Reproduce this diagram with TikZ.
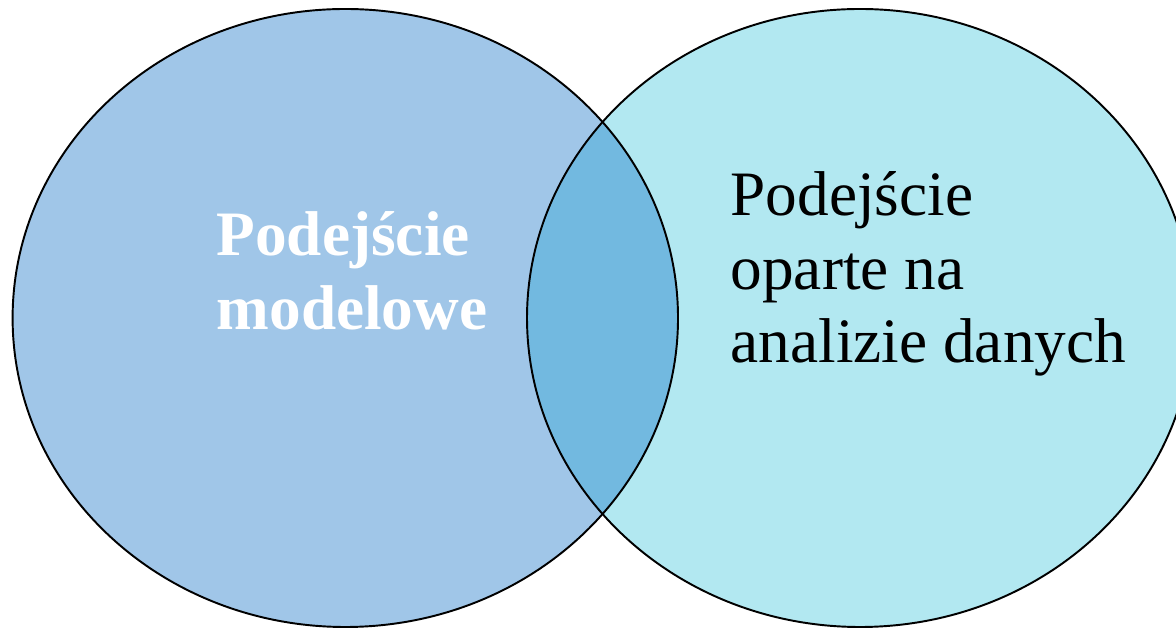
\documentclass[tikz,border=0pt]{standalone}
\usepackage{fontspec}
\setmainfont{Liberation Serif}
\usepackage{tikz}
\usetikzlibrary{positioning}
\definecolor{modelfill}{HTML}{A0C6E8}
\definecolor{datafill}{HTML}{B2E8F1}
\definecolor{overlapfill}{HTML}{72B9E0}
\tikzstyle{setline} = [draw=black, line width=0.55pt]
\tikzstyle{settext} = [align=left, inner sep=0pt, anchor=base west,
                font=\fontsize{18}{21}\selectfont]

\begin{document}
\begin{tikzpicture}
                \useasboundingbox (0,0) rectangle (11.76,6.27);
                \coordinate (modelC) at (3.453,3.09);
                \coordinate (dataC) at (8.600,3.09);
                \fill[modelfill] (modelC) ellipse (3.327 and 3.09);
                \fill[datafill] (dataC) ellipse (3.33 and 3.09);
                \begin{scope}
                \clip (modelC) ellipse (3.327 and 3.09);
                \fill[overlapfill] (dataC) ellipse (3.33 and 3.09);
                \end{scope}
                \path[setline] (modelC) ellipse (3.327 and 3.09);
                \path[setline] (dataC) ellipse (3.33 and 3.09);
                \node[settext, text=white, font=\fontsize{18}{21.3}\selectfont\bfseries](model) at (2.16,2.97){Podejście\\modelowe};
                \node[settext](data) at (7.30,2.64){Podejście\\oparte na\\analizie danych};
            \end{tikzpicture}
\end{document}
